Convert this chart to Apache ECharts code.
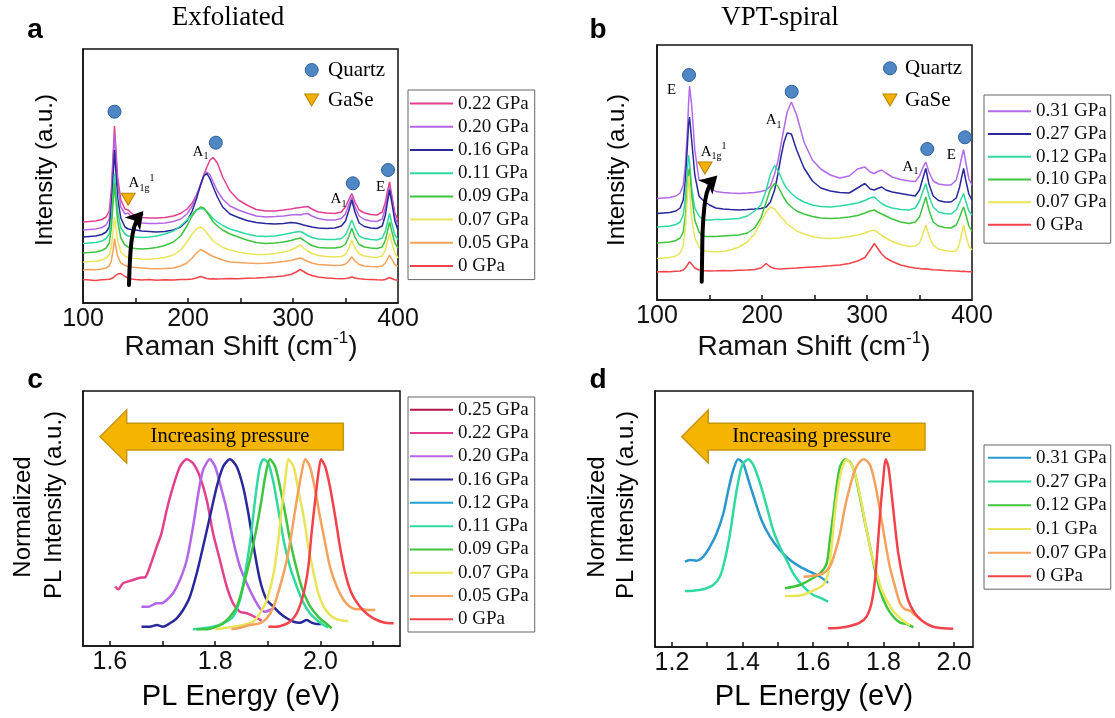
<!DOCTYPE html>
<html><head><meta charset="utf-8">
<script src="https://cdn.jsdelivr.net/npm/echarts@6/dist/echarts.min.js"></script>
<style>
html,body{margin:0;padding:0;background:#fff;width:1115px;height:718px;overflow:hidden}
.c{position:absolute;left:0;top:0;width:1115px;height:718px}
</style></head><body>
<div id="pa" class="c"></div><div id="pb" class="c"></div><div id="pc" class="c"></div><div id="pd" class="c"></div>
<script>
// ---------------- DATA ----------------
const ramanShift = [100,106,112,118,122,125,127,129,130,131,133,136,140,143,146,150,156,163,170,178,186,193,199,204,208,212,215,218,221,224,228,233,240,248,256,265,274,283,291,298,303,307,310,314,318,324,332,340,346,350,353,356,359,363,368,374,380,385,388,390,392,394,397,400];

// Panel a (Exfoliated) Raman intensities (a.u., offset stacked)
const exfNames = ['0.22 GPa','0.20 GPa','0.16 GPa','0.11 GPa','0.09 GPa','0.07 GPa','0.05 GPa','0 GPa'];
const exf022 = [81,81.5,82,83.5,86,92,113,155,177,160,126,103,94,93,90,87,85.5,85,85,85.5,87,89.5,94,100,108,118,128,136,143,145.5,140,126,112,103,98,93.5,92,92,93,94,95,95.5,96,96.5,94,91,90,89.5,91,96,103,109.5,101,93,90,88.5,88,91,101,112,121,108,90,83];
const exf020 = [73,73.5,74,75.5,78,84,105,148,169.5,152,118,96,89,90,86,82,80,79.5,79.5,80,81.5,84,89,97,107,119,127,131,128,121,112,104,97,93,90,87,86,86.5,87,88,88.5,88,89,89.5,87,84.5,83,83,84.5,89,98,106,96,87,83.5,82,81.5,84,95,106,116,104,86,78];
const exf016 = [66,66.5,67,68.5,71,76,95,133,153,136,105,85,76,74,73.5,73,72,71.5,71,71.5,73,76,82,92,104,118,127,129.5,124,116,106,96,89,85.5,82.5,80.5,79.5,79,79.5,80.5,80,79,78,77,76,75,74.5,75,77,82,92,103,91,80,76.5,75,74.5,77,88,101,113,101,82,73];
const exf011 = [59.5,60,60.5,62,64.5,69,84,114,129.5,116,92,75,69,67,66.5,66,65.5,66,67,69,72,77,83,89,93,94.5,94,91.5,88,84.5,81,77.5,74,71.5,69,67,66.5,67,68.5,70,71,71.5,70,67.5,65.5,64,63.5,63.5,64.5,68,75,83,75,67,64.5,63.5,63,65,72,81,89.5,80,68,63.5];
const exf009 = [50,50.5,51,52.5,55,60,75,105,119.5,106,82,65,58,56,55,54.5,54,54.5,55.5,57.5,61,67,77,87,93,96,95,91,86,81,77,73,69,66,63,60.5,59.5,60,61,62.5,64,65,63,60,57.5,55.5,55,55,56,59,66,75,66,58.5,56,55,54.5,56,63,72,81,72,60,55];
const exf007 = [41,41.5,41.8,43,45,48,56,75,86,78,62,51,47,45.5,45,44.5,44,43.8,44.5,45.5,48,53,61,69,74,76,74,70,66,62,59,55.5,53,51,49.5,48.5,48.5,49.5,51,53,55.5,58,55,52,49.5,47.5,46.5,46,46.5,48.5,54,63,55,49,47,46,45.5,47,53,62,69.5,61,50,45];
const exf005 = [33,33.5,33.2,34,35,37,42,55,64.5,58,47,40,37.5,36.5,36,35.5,35,34.5,34.2,34.5,35,37,40,45,50,53.5,52,50,48,46.5,45,43,41,40.5,40,39.5,39.8,40.5,41.5,42.5,44,45,43.5,41.5,40,38.5,38,37.5,37.8,39,42,46,42,38.5,37,36.5,36.3,37,40,44,48,44,38.5,36.5];
const exf000 = [23.5,23,22.5,23.2,23.5,23.8,24.5,25.5,26.5,27.5,29,29.5,26.5,25,24,23.5,23,23.4,22.8,23.3,23,23.5,23.6,24,25,26.5,25.5,24.5,24,24.3,24,24.2,24.5,24.3,24.8,25,25.5,26.2,27,28.5,31,33.5,31.5,29,27.5,26,25,24.5,24.2,24.5,25,26,25,24.2,23.8,23.5,23.2,23,23.5,24.5,25.5,24.5,23.2,22.8];

// Panel b (VPT-spiral)
const vptNames = ['0.31 GPa','0.27 GPa','0.12 GPa','0.10 GPa','0.07 GPa','0 GPa'];
const vpt031 = [101.5,102,102.5,104,107,115,135,170,195,214,195,150,120,120,118,113,108.5,107.5,107,106.5,107,107.5,108.5,110,114,126,138,155,172,188,198,185,158,140,131,125,122,124,131,133,128,126.5,128.5,130,127,123,120.5,119,118.5,124,132,138,128,119,116,115,115,120,132,142,150.5,138,121,115];
const vpt027 = [86.5,87,87.5,89,92,100,120,155,175,183,160,125,104,100.5,98,95,92,91,90.5,90,90.5,91,91.5,93,98,110,125,143,158,167,166,150,132,119,112,109,107.5,107,112,116.5,111,110,111.5,113,110,108,106.5,105,104,110,121,131.5,116,104,99.5,98,98,102,112,122,131.5,120,106,100];
const vpt012 = [73,73.5,74,75.5,78,85,102,130,145,138,112,92,84,81,80,80,80.5,80.5,81,81.5,84,89,95,110,126,134.5,130,123,116,111,106.5,102,98,95,93.5,93,94,95.5,97,99.5,102,103,100,96.5,94,92,90.5,90,92,99,108,116.5,104,93,88,86.5,86,90,97,102,106.5,99,89,85];
const vpt010 = [57,57.5,58,59.5,62,68,84,112,128,131.5,105,80,68,64.5,63.5,63.5,63.5,64,64.5,65,67,72,82,98,111,116.5,114,108,102,97,93,89,86,83.5,82,81.5,82,83,84.5,87,89,90,88,86,84,81,78,76.5,78,83,93,103,90,78,74,72.5,72,75,82,88,93,86,74,68.5];
const vpt007 = [41.5,42,42.5,44,47,54,72,105,124,112,82,62,53,50,49,48.5,48.3,48.5,50,53,58,66,78,88,93,91,87,83,80,76,73,69,66,63.5,62,61.5,62,63.5,65,67,69,70,68,64.5,62,58.5,55.5,53.5,54,57,65,75,64,55,51,49.5,48.5,49,56,66,75,65,54,50];
const vpt000 = [28,28.5,28.3,28.8,29,30,32,35,37,38.3,36,32,30,29.5,29.3,29,29.2,29.5,29.3,29.8,30,30.5,32,36.5,33,31.5,31.2,31,31.3,31.5,31.7,32,32.5,33,33.5,34.2,35,36.5,39,42.5,50,56.5,52,46,42,38.5,35,33,32,31.5,31,31.2,30.8,30.2,30,29.5,29.2,29,28.8,28.6,28.8,28.5,28.3,28.2];

// Raman annotations (data coordinates)
const quartzA = [[130,191.3],[226.5,160.3],[357,119.7],[390.5,133],[317.8,233]];
const gaseA = [[143,103.7],[317.8,203]];
const labelTextA = ['{m|A}{s|1}','{m|A}{s|1g}{p|1}','{m|A}{s|1}','{m|E}'];
const labelPosA = [[211.9,151.3],[155.7,119.7],[343.3,103.7],[383.3,116.3]];
const legendTextA = ['Quartz','GaSe'];
const legendTextPosA = [[333.3,233],[333.3,203]];
const arrowPathA = [[143.8,18],[144.6,40],[146,60],[148.5,75],[152,84],[155.5,89]];
const arrowHeadA = [[157.5,92]];

const quartzB = [[130.5,225],[228.3,208.3],[357.4,151],[393.3,162.7],[321.9,231.7]];
const gaseB = [[145.7,132],[321.9,200]];
const labelTextB = ['{m|E}','{m|A}{s|1}','{m|A}{s|1g}{p|1}','{m|A}{s|1}','{m|E}'];
const labelPosB = [[114,210],[211,180],[154,148.3],[341.4,133.3],[380.3,145]];
const legendTextPosB = [[336.2,231.7],[336.2,200]];
const arrowPathB = [[142.6,18.3],[143,45],[143.5,70],[145,92],[147.3,106.7],[151,116],[154.5,121]];
const arrowHeadB = [[157.5,124.5]];

// Panel c (Exfoliated PL) [energy eV, normalized intensity a.u.]
const plExfNames = ['0.25 GPa','0.22 GPa','0.20 GPa','0.16 GPa','0.12 GPa','0.11 GPa','0.09 GPa','0.07 GPa','0.05 GPa','0 GPa'];
const plExf025 = [];
const plExf022 = [[1.610,59.3],[1.616,56.7],[1.625,62.7],[1.644,66],[1.657,68.3],[1.667,68.7],[1.676,79.3],[1.689,99.3],[1.698,112.7],[1.708,136],[1.720,159.3],[1.733,179.3],[1.746,186.7],[1.758,182.7],[1.771,169.3],[1.784,146],[1.796,112.7],[1.809,86],[1.822,59.3],[1.834,42.7],[1.847,34.3],[1.860,32.7],[1.872,30],[1.888,25.3]];
const plExf020 = [[1.660,39.3],[1.673,39.3],[1.689,42.7],[1.698,42.7],[1.708,46],[1.720,52.7],[1.733,66],[1.746,86],[1.758,119.3],[1.768,152.7],[1.777,176],[1.790,186.7],[1.800,179.3],[1.809,162.7],[1.822,136],[1.834,106],[1.847,79.3],[1.860,62.7],[1.872,49.3],[1.885,37.7],[1.895,34.3],[1.904,36],[1.914,38.7]];
const plExf016 = [[1.660,19.3],[1.676,19.3],[1.689,21],[1.701,19.3],[1.714,22.7],[1.727,27.7],[1.739,36],[1.752,49.3],[1.765,72.7],[1.777,99.3],[1.790,129.3],[1.803,159.3],[1.815,179.3],[1.828,186.7],[1.841,179.3],[1.853,159.3],[1.863,132.7],[1.872,102.7],[1.885,66],[1.898,46],[1.911,39.3],[1.923,32.7],[1.936,27.7],[1.949,24.3],[1.961,23.3],[1.974,26],[1.983,23.3],[1.993,22],[2.002,22]];
const plExf012 = [];
const plExf011 = [[1.758,16.7],[1.777,17.7],[1.796,19.3],[1.815,22.7],[1.834,29.3],[1.847,46],[1.857,72.7],[1.866,102.7],[1.872,129.3],[1.879,159.3],[1.885,179.3],[1.892,186.7],[1.901,182.7],[1.911,162.7],[1.920,136],[1.930,106],[1.942,79.3],[1.955,59.3],[1.968,42.7],[1.980,32.7],[1.993,26],[2.006,21],[2.015,18.7]];
const plExf009 = [[1.765,16.7],[1.784,16.7],[1.803,19.3],[1.815,22.7],[1.828,29.3],[1.841,39.3],[1.853,59.3],[1.866,86],[1.879,119.3],[1.888,146],[1.895,169.3],[1.904,186.7],[1.914,179.3],[1.923,159.3],[1.933,132.7],[1.942,106],[1.952,82.7],[1.964,59.3],[1.977,42.7],[1.990,32.7],[2.002,26],[2.012,22],[2.021,17.7]];
const plExf007 = [[1.800,16.7],[1.815,17.7],[1.834,19.3],[1.853,21],[1.872,24.3],[1.885,32.7],[1.898,46],[1.911,72.7],[1.920,106],[1.926,136],[1.933,166],[1.939,186.7],[1.949,179.3],[1.958,156],[1.968,129.3],[1.977,99.3],[1.987,72.7],[1.996,52.7],[2.006,39.3],[2.018,31],[2.031,26.7],[2.044,25.3],[2.053,24.7]];
const plExf005 = [[1.831,16.7],[1.847,18.3],[1.866,21],[1.885,22.7],[1.898,27.7],[1.911,39.3],[1.923,59.3],[1.936,86],[1.945,112.7],[1.955,146],[1.964,172.7],[1.971,186.7],[1.980,179.3],[1.990,156],[1.999,129.3],[2.009,102.7],[2.018,79.3],[2.031,59.3],[2.044,46],[2.056,39.3],[2.069,36.7],[2.082,36.7],[2.091,36],[2.104,36]];
const plExf000 = [[1.901,19.3],[1.917,19.3],[1.930,21],[1.942,24.3],[1.955,32.7],[1.968,52.7],[1.977,79.3],[1.983,112.7],[1.990,146],[1.996,172.7],[2.001,186.7],[2.009,179.3],[2.018,159.3],[2.028,129.3],[2.037,99.3],[2.047,72.7],[2.059,52.7],[2.075,39.3],[2.091,31],[2.107,26],[2.123,23.3],[2.139,22.7]];

// Panel d (VPT-spiral PL)
const plVptNames = ['0.31 GPa','0.27 GPa','0.12 GPa','0.1 GPa','0.07 GPa','0 GPa'];
const plVpt031 = [[1.237,85.3],[1.251,87],[1.270,86.3],[1.289,90.3],[1.308,100.3],[1.327,113.7],[1.346,133.7],[1.360,157],[1.374,177],[1.388,187.7],[1.402,183.7],[1.417,167],[1.435,147],[1.454,127],[1.478,110.3],[1.506,97],[1.535,87],[1.563,80.3],[1.591,75.3],[1.620,70.3],[1.643,64.3]];
const plVpt027 = [[1.237,56],[1.261,56.3],[1.289,57.7],[1.317,62],[1.336,70.3],[1.350,87],[1.365,113.7],[1.379,147],[1.393,173.7],[1.402,183.7],[1.417,187.7],[1.431,182],[1.450,163.7],[1.469,140.3],[1.487,117],[1.506,100.3],[1.525,87],[1.544,73.7],[1.573,60.3],[1.601,52],[1.625,48.7],[1.643,45.3]];
const plVpt012 = [[1.521,58.7],[1.544,60.3],[1.563,62],[1.591,67],[1.620,73.7],[1.639,83.7],[1.648,107],[1.658,133.7],[1.667,160.3],[1.677,180.3],[1.691,187.7],[1.705,185.3],[1.719,173.7],[1.733,150.3],[1.748,123.7],[1.762,100.3],[1.776,77],[1.790,57],[1.809,40.3],[1.828,30.3],[1.847,24.3],[1.866,23],[1.885,19.7]];
const plVpt010 = [[1.521,51],[1.544,51],[1.573,52.3],[1.601,56.3],[1.629,62],[1.643,73.7],[1.653,100.3],[1.662,133.7],[1.672,160.3],[1.681,177],[1.696,187.7],[1.710,182],[1.724,167],[1.738,143.7],[1.752,117],[1.766,93.7],[1.781,73.7],[1.795,57],[1.814,43.7],[1.833,33.7],[1.856,26.3],[1.875,21.7]];
const plVpt007 = [[1.573,70.3],[1.601,71.3],[1.629,73.7],[1.648,80.3],[1.662,93.7],[1.677,113.7],[1.691,140.3],[1.705,160.3],[1.719,177],[1.733,185.3],[1.745,187.7],[1.762,182],[1.776,163.7],[1.790,137],[1.804,107],[1.818,80.3],[1.833,60.3],[1.847,43.7],[1.861,37.7],[1.875,36.3],[1.889,32],[1.904,28.7]];
const plVpt000 = [[1.643,18.7],[1.677,19.3],[1.705,21],[1.733,24.3],[1.752,30.3],[1.766,43.7],[1.776,67],[1.785,107],[1.792,140.3],[1.800,170.3],[1.806,187.7],[1.814,180.3],[1.823,153.7],[1.833,120.3],[1.842,93.7],[1.856,67],[1.870,47],[1.889,33.7],[1.913,25.3],[1.941,20.3],[1.970,18.7],[1.998,18.3]];

// Axis ticks
const ramanTicks = [150,200,250,300,350];
const ramanTickLabels = [100,200,300,400];
const plExfTicks = [1.6,1.7,1.8,1.9,2.0,2.1];
const plExfTickLabels = [1.6,1.8,2.0];
const plVptTicks = [1.2,1.3,1.4,1.5,1.6,1.7,1.8,1.9,2.0];
const plVptTickLabels = [1.2,1.4,1.6,1.8,2.0];

// ---------------- STYLE ----------------
const SANS = '"Liberation Sans", Arial, sans-serif';
const SERIF = '"Liberation Serif", "Times New Roman", serif';
const C = {pink:'#e2408f', purple:'#b366e6', navy:'#28289a', teal:'#2fd9a0', green:'#3ec43e', yellow:'#e9e55a', orange:'#f5a25d', red:'#f2434a', crimson:'#b0164a', cyan:'#23a0d0', blue:'#2b97cf', violet:'#b36ae8'};

function txt(x, y, text, size, fam, extra) {
  return Object.assign({type:'text', x:x, y:y, z:100, silent:true,
    style:{text:text, fontSize:size, fontFamily:fam, fill:'#000', align:'center', verticalAlign:'middle'}}, extra || {});
}
function letter(x, y, t) {
  return {type:'text', x:x, y:y, z:100, silent:true, style:{text:t, fontSize:28, fontFamily:SANS, fontWeight:'bold', fill:'#000', align:'center', verticalAlign:'middle'}};
}
function xAxisCfg(min, max, ticks, labels) {
  return {type:'value', min:min, max:max, splitLine:{show:false},
    axisLine:{show:true, onZero:false, lineStyle:{color:'#111', width:1.5}},
    axisTick:{show:true, inside:true, length:5, customValues:ticks, lineStyle:{color:'#111', width:1.5}},
    axisLabel:{show:true, customValues:labels, margin:4, fontSize:25, fontFamily:SANS, color:'#111',
      formatter:(v)=> (Math.abs(v) >= 10 ? String(Math.round(v)) : v.toFixed(1))}};
}
function yAxisCfg(max) {
  return {type:'value', min:0, max:max, show:true, splitLine:{show:false}, axisLine:{show:true, lineStyle:{color:'#111', width:1.5}}, axisTick:{show:false}, axisLabel:{show:false}};
}
function legendCfg(names, left, top, lh, pad) {
  return {orient:'vertical', left:left, top:top, icon:'rect', itemWidth:43, itemHeight:2, itemGap:0,
    padding:pad, borderColor:'#666', borderWidth:1, backgroundColor:'#fff', selectedMode:false,
    textStyle:{fontFamily:SERIF, fontSize:19, color:'#111', lineHeight:lh}, data:names};
}
function lineS(name, color, data, width, smooth) {
  return {type:'line', name:name, data:data, showSymbol:false, symbol:'none', smooth:smooth,
    lineStyle:{color:color, width:width}, itemStyle:{color:color}, animation:false, z:2};
}
const labelRich = {
  m:{fontFamily:SERIF, fontSize:15, color:'#000', lineHeight:20},
  s:{fontFamily:SERIF, fontSize:10, color:'#000', lineHeight:12, verticalAlign:'bottom'},
  p:{fontFamily:SERIF, fontSize:10, color:'#000', lineHeight:12, verticalAlign:'top'}
};

function ramanOption(p) {
  const series = p.names.map((n,i)=> lineS(n, p.colors[i], ramanShift.map((x,j)=>[x, p.ys[i][j]]), 1.5, false));
  series.push({type:'line', name:'arrowBody', data:p.arrowPath, smooth:0.4, showSymbol:false, symbol:'none', z:7, animation:false,
    lineStyle:{color:'#000', width:4, cap:'round'}});
  series.push({type:'scatter', name:'arrowHead', data:p.arrowHead, symbol:'arrow', symbolSize:[15,17], symbolRotate:p.headRot, z:8, animation:false,
    itemStyle:{color:'#000', opacity:1}});
  series.push({type:'scatter', name:'quartz', data:p.quartz, symbol:'circle', symbolSize:13, z:5, animation:false,
    itemStyle:{color:'#4f86c6', borderColor:'#2f5f98', borderWidth:1, opacity:1}});
  series.push({type:'scatter', name:'gase', data:p.gase, symbol:'triangle', symbolRotate:180, symbolSize:[14,12], z:5, animation:false,
    itemStyle:{color:'#f2b100', borderColor:'#b88400', borderWidth:1, opacity:1}});
  const ann = p.labelPos.map((pos,i)=>({value:pos, label:{formatter:p.labelText[i]}}));
  legendTextA.forEach((t,i)=> ann.push({value:p.legendTextPos[i], label:{formatter:'{q|'+t+'}', position:'right', distance:0}}));
  series.push({type:'scatter', name:'ann', data:ann, symbolSize:0, z:6, animation:false, itemStyle:{opacity:1},
    label:{show:true, position:'inside', color:'#000', opacity:1, rich:Object.assign({q:{fontFamily:SERIF, fontSize:21, color:'#000'}}, labelRich)}});
  return {backgroundColor:'transparent', animation:false,
    grid:{left:p.g[0], top:p.g[1], width:p.g[2], height:p.g[3], show:true, borderColor:'#111', borderWidth:1.5, backgroundColor:'transparent'},
    xAxis:xAxisCfg(100, 400, ramanTicks, ramanTickLabels), yAxis:yAxisCfg(p.g[3]),
    legend:p.legend, series:series, graphic:p.graphic};
}

function arrowGraphic(tipX, baseX, endX, cy, text) {
  return [
    {type:'polygon', z:50, silent:true, shape:{points:[[tipX,cy],[baseX,cy-26.7],[baseX,cy-13.4],[endX,cy-13.4],[endX,cy+13.3],[baseX,cy+13.3],[baseX,cy+26.3]]},
      style:{fill:'#f5b400', stroke:'#c8960a', lineWidth:1.5}},
    txt((baseX+endX)/2 - 5, cy, text, 20.5, SERIF, {z:60})
  ];
}

function plOption(p) {
  const series = p.names.map((n,i)=> lineS(n, p.colors[i], p.data[i], 2.5, 0.25));
  return {backgroundColor:'transparent', animation:false,
    grid:{left:p.g[0], top:p.g[1], width:p.g[2], height:p.g[3], show:true, borderColor:'#111', borderWidth:1.5, backgroundColor:'transparent'},
    xAxis:xAxisCfg(p.xr[0], p.xr[1], p.ticks, p.labels), yAxis:yAxisCfg(p.g[3]),
    legend:p.legend, series:series, graphic:p.graphic};
}

const xNameRich = {n:{fontSize:28, fontFamily:SANS, fill:'#111', lineHeight:34}, p:{fontSize:17, fontFamily:SANS, fill:'#111', lineHeight:17, verticalAlign:'top'}};

// ---------------- PANEL A ----------------
echarts.init(document.getElementById('pa')).setOption(ramanOption({
  g:[83,49,315,254], names:exfNames,
  colors:[C.pink,C.purple,C.navy,C.teal,C.green,C.yellow,C.orange,C.red],
  ys:[exf022,exf020,exf016,exf011,exf009,exf007,exf005,exf000],
  quartz:quartzA, gase:gaseA, labelText:labelTextA, labelPos:labelPosA, legendTextPos:legendTextPosA,
  arrowPath:arrowPathA, arrowHead:arrowHeadA, headRot:-40,
  legend:legendCfg(exfNames, 408, 90, 23.2, [2,6,2,2]),
  graphic:[
    letter(35,30,'a'),
    txt(228,18,'Exfoliated',27,SERIF),
    txt(45,170,'Intensity (a.u.)',24,SANS,{rotation:Math.PI/2}),
    {type:'text', x:241, y:347, z:100, silent:true, style:{text:'{n|Raman Shift (cm}{p|-1}{n|)}', rich:xNameRich, align:'center', verticalAlign:'middle'}}
  ]
}));

// ---------------- PANEL B ----------------
echarts.init(document.getElementById('pb')).setOption(ramanOption({
  g:[657,45,315,255], names:vptNames,
  colors:[C.violet,C.navy,C.teal,C.green,C.yellow,C.red],
  ys:[vpt031,vpt027,vpt012,vpt010,vpt007,vpt000],
  quartz:quartzB, gase:gaseB, labelText:labelTextB, labelPos:labelPosB, legendTextPos:legendTextPosB,
  arrowPath:arrowPathB, arrowHead:arrowHeadB, headRot:-45,
  legend:legendCfg(vptNames, 984, 95, 22.7, [5,4,7,4]),
  graphic:[
    letter(598,30,'b'),
    txt(780,18,'VPT-spiral',27,SERIF),
    txt(617,170,'Intensity (a.u.)',24,SANS,{rotation:Math.PI/2}),
    {type:'text', x:814, y:347, z:100, silent:true, style:{text:'{n|Raman Shift (cm}{p|-1}{n|)}', rich:xNameRich, align:'center', verticalAlign:'middle'}}
  ]
}));

// ---------------- PANEL C ----------------
echarts.init(document.getElementById('pc')).setOption(plOption({
  g:[83,391,317,255], xr:[1.549,2.151], ticks:plExfTicks, labels:plExfTickLabels, names:plExfNames,
  colors:[C.crimson,C.pink,C.purple,C.navy,C.cyan,C.teal,C.green,C.yellow,C.orange,C.red],
  data:[plExf025,plExf022,plExf020,plExf016,plExf012,plExf011,plExf009,plExf007,plExf005,plExf000],
  legend:legendCfg(plExfNames, 408, 397, 23.3, [1,6,1,2]),
  graphic:[
    letter(35,380,'c'),
    txt(23,517,'Normalized',24,SANS,{rotation:Math.PI/2}),
    txt(54,505,'PL Intensity (a.u.)',24,SANS,{rotation:Math.PI/2}),
    txt(241,697,'PL Energy (eV)',29,SANS)
  ].concat(arrowGraphic(100,126.7,343.3,436.7,'Increasing pressure'))
}));

// ---------------- PANEL D ----------------
echarts.init(document.getElementById('pd')).setOption(plOption({
  g:[655,391,318,256], xr:[1.152,2.054], ticks:plVptTicks, labels:plVptTickLabels, names:plVptNames,
  colors:[C.blue,C.teal,C.green,C.yellow,C.orange,C.red],
  data:[plVpt031,plVpt027,plVpt012,plVpt010,plVpt007,plVpt000],
  legend:legendCfg(plVptNames, 984, 445, 23.7, [1,4,1,4]),
  graphic:[
    letter(598,380,'d'),
    txt(597,517,'Normalized',24,SANS,{rotation:Math.PI/2}),
    txt(626,505,'PL Intensity (a.u.)',24,SANS,{rotation:Math.PI/2}),
    txt(814,697,'PL Energy (eV)',29,SANS)
  ].concat(arrowGraphic(681.7,708.3,925,436.7,'Increasing pressure'))
}));
</script>
</body></html>
